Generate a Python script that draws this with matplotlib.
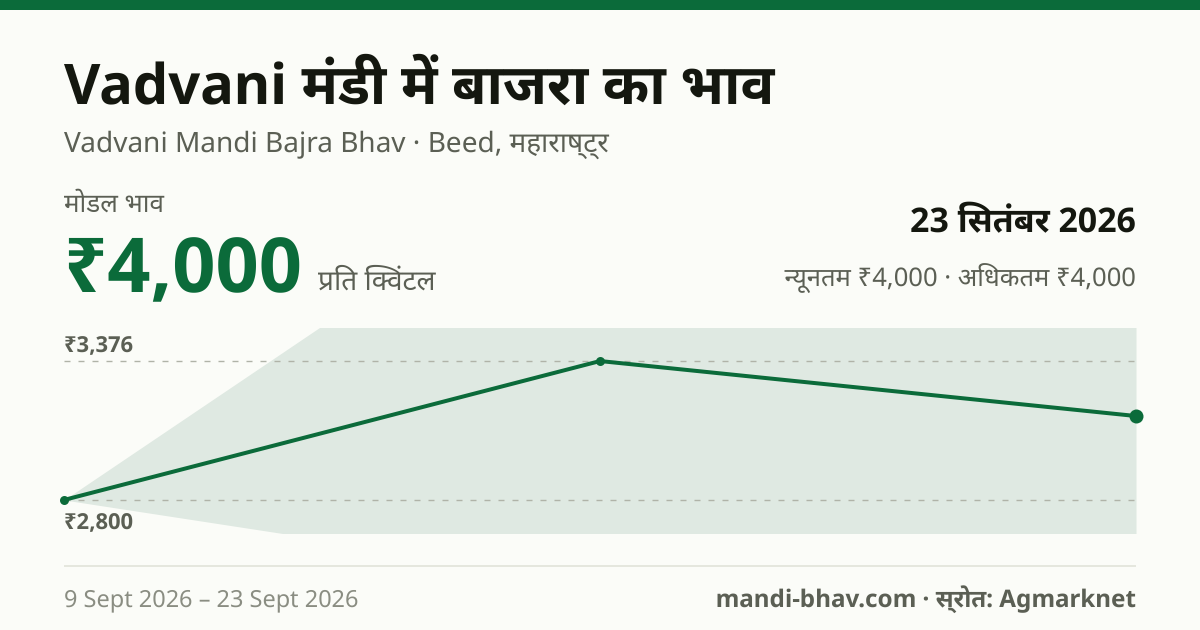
import re
import numpy as np
import matplotlib
matplotlib.use('Agg')
import matplotlib.pyplot as plt
from matplotlib.patches import Rectangle
from matplotlib.text import Text
from matplotlib.font_manager import FontProperties, findfont
from PIL import Image, ImageDraw, ImageFont

# ---- data ----
days = [9, 16, 23]
modal = [2800, 3376, 3148]
band_low = [2800, 2459, 2459]
band_high = [2800, 4300, 4300]
guide_values = [3376, 2800]
view_low, view_high = 2663, 3513

title = 'Vadvani मंडी में बाजरा का भाव'
subtitle = 'Vadvani Mandi Bajra Bhav · Beed, महाराष्ट्र'
price_label = 'मोडल भाव'
price = '₹4,000'
unit = 'प्रति क्विंटल'
date_text = '23 सितंबर 2026'
range_text = 'न्यूनतम ₹4,000 · अधिकतम ₹4,000'
period = '9 Sept 2026 – 23 Sept 2026'
source = 'mandi-bhav.com · स्रोत: Agmarknet'

# ---- style ----
W, H = 1200, 630
BG = '#fbfcf8'
GREEN = '#0b6b3a'
INK = '#14170f'
GREY = '#5b5f54'
LIGHT = '#8a8d82'
BAND = '#dfe9e2'
PX = 72 / 100
plt.rcParams['lines.scale_dashes'] = False
plt.rcParams['font.family'] = ['Noto Sans', 'Noto Sans Devanagari', 'DejaVu Sans']

LATIN_FILE = findfont(FontProperties(family='Noto Sans'))
DEVA_FILE = findfont(FontProperties(family='Noto Sans Devanagari'))
DEVA_RUN = re.compile(r'([\u0900-\u097F]+)')
OPEN_CONJUNCT = re.compile('(?<=[षटस]\u094d)(?=[टर])')
SS = 4


def shaping_font(path, px, weight):
    font = ImageFont.truetype(path, px * SS, layout_engine=ImageFont.Layout.RAQM)
    values = []
    for axis in font.get_variation_axes():
        name = axis['name']
        name = name.decode() if isinstance(name, bytes) else name
        values.append(weight if name.lower().startswith('weight') else axis['default'])
    font.set_variation_by_axes(values)
    return font


class ShapedText(Text):
    """A Text whose own string is laid out by HarfBuzz (Devanagari conjuncts)."""

    def _runs(self, px):
        weight = self.get_fontweight()
        weight = 700 if weight == 'bold' else 400
        latin = shaping_font(LATIN_FILE, px, weight)
        deva = shaping_font(DEVA_FILE, px, weight)
        runs = []
        for i, part in enumerate(DEVA_RUN.split(self.get_text())):
            if not part:
                continue
            if i % 2:
                for piece in OPEN_CONJUNCT.split(part):
                    runs.append((piece, deva, deva.getlength(piece) / SS))
            else:
                runs.append((part, latin, latin.getlength(part) / SS))
        return runs

    def draw(self, renderer):
        if not self.get_visible():
            return
        px = self.get_fontsize() * self.get_figure().dpi / 72
        runs = self._runs(px)
        total = sum(r[2] for r in runs)
        x, y = self.get_transform().transform(self.get_position())
        if self.get_ha() == 'right':
            x -= total
        pad = 4
        x0, y0 = int(np.floor(x)) - pad, int(np.floor(y))
        up, down = int(px * 1.4), int(px * 0.7)
        width = int(total) + 2 * pad + 4
        mask = Image.new('L', (width * SS, (up + down) * SS), 0)
        pen_d = ImageDraw.Draw(mask)
        pen = (x - x0) * SS
        base = (up + (y0 - y) * -1) * SS
        for part, font, adv in runs:
            pen_d.text((pen, base), part, font=font, fill=255, anchor='ls')
            pen += adv * SS
        alpha = np.asarray(mask.reduce(SS), dtype=np.uint8)
        rgba = np.zeros(alpha.shape + (4,), dtype=np.uint8)
        rgba[..., :3] = np.round(np.array(matplotlib.colors.to_rgb(self.get_color())) * 255)
        rgba[..., 3] = alpha
        gc = renderer.new_gc()
        renderer.draw_image(gc, x0, y0 - down, np.flipud(rgba).copy())
        gc.restore()


fig = plt.figure(figsize=(W / 100, H / 100), dpi=100, facecolor=BG)


def put(x, y, s, px, color, weight='normal', ha='left'):
    t = fig.text(x / W, 1 - y / H, s, fontsize=px * PX, color=color, weight=weight,
                 ha=ha, va='baseline')
    t.__class__ = ShapedText
    return t


fig.add_artist(Rectangle((0, 1 - 10 / H), 1, 10 / H, transform=fig.transFigure,
                         facecolor=GREEN, edgecolor='none'))

put(64, 104, title, 56, INK, 'bold')
put(64, 152, subtitle, 28, GREY)
put(64, 212, price_label, 26, GREY)
put(64, 292, price, 75.7, GREEN, 'bold')
put(318, 290, unit, 28, GREY)
put(1136, 232, date_text, 33.9, INK, 'bold', 'right')
put(1136, 286, range_text, 25.6, GREY, ha='right')

# ---- chart ----
ax = fig.add_axes([64 / W, 1 - 533 / H, (1136 - 64) / W, (533 - 328) / H])
ax.set_xlim(days[0], days[-1])
ax.set_ylim(view_low, view_high)
ax.axis('off')
ax.fill_between(days, band_low, band_high, color=BAND, linewidth=0, zorder=1)
for v in guide_values:
    ax.plot([days[0], days[-1]], [v, v], color='#b0b3a8', lw=1.4 * PX,
            linestyle=(0, (6 * PX, 8 * PX)), zorder=2, solid_capstyle='butt')
ax.plot(days, modal, color=GREEN, lw=4 * PX, zorder=3, solid_joinstyle='round')
ax.plot(days[:-1], modal[:-1], 'o', color=GREEN, ms=9 * PX, mew=0, zorder=4, clip_on=False)
ax.plot(days[-1:], modal[-1:], 'o', color=GREEN, ms=14 * PX, mew=0, zorder=4, clip_on=False)

put(64, 352, f'₹{guide_values[0]:,}', 22, GREY, 'bold')
put(64, 527, f'₹{guide_values[1]:,}', 22, GREY, 'bold')

# ---- footer ----
fig.add_artist(Rectangle((64 / W, 1 - 567 / H), (1136 - 64) / W, 2 / H,
                         transform=fig.transFigure, facecolor='#e5e7de', edgecolor='none'))
put(64, 605, period, 23.5, LIGHT)
put(1136, 605, source, 24.2, GREY, 'bold', 'right')

fig.savefig('out.png', dpi=100, facecolor=BG)
